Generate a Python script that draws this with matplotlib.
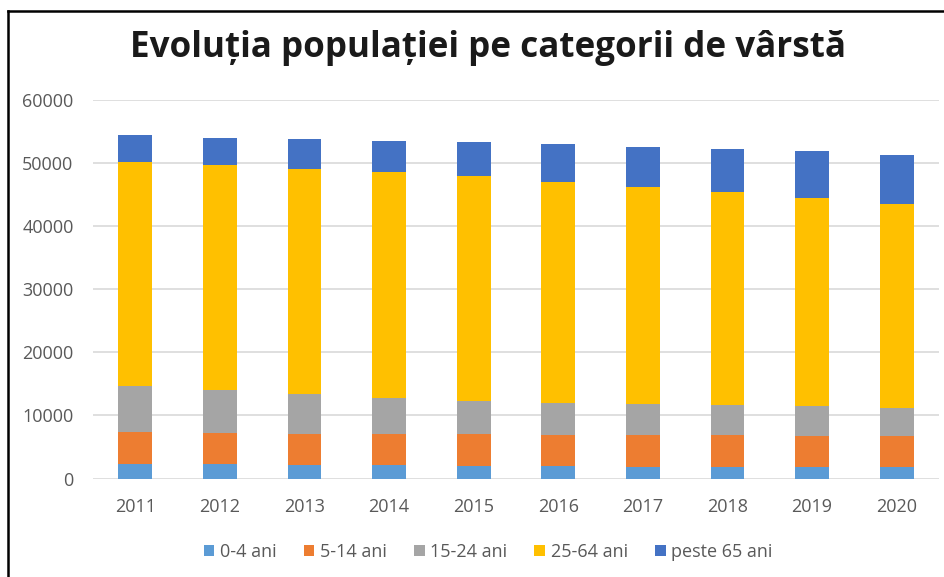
import numpy as np
import matplotlib
matplotlib.use('Agg')
import matplotlib.pyplot as plt
from matplotlib.lines import Line2D

# Data
years = ['2011', '2012', '2013', '2014', '2015', '2016', '2017', '2018', '2019', '2020']
age_0_4 = [2350, 2300, 2200, 2150, 2050, 2050, 1900, 1900, 1850, 1800]
age_5_14 = [4950, 4950, 4900, 4850, 4950, 4800, 4950, 4950, 4950, 4950]
age_15_24 = [7400, 6750, 6300, 5750, 5350, 5100, 4900, 4750, 4700, 4450]
age_25_64 = [35400, 35650, 35700, 35800, 35550, 35100, 34500, 33800, 32950, 32300]
age_65 = [4300, 4400, 4650, 4950, 5450, 6000, 6300, 6800, 7400, 7800]
series_names = ['0-4 ani', '5-14 ani', '15-24 ani', '25-64 ani', 'peste 65 ani']
colors = ['#5B9BD5', '#ED7D31', '#A5A5A5', '#FFC000', '#4472C4']

plt.rcParams['font.family'] = ['Open Sans', 'DejaVu Sans']

W, H = 944, 577
fig = plt.figure(figsize=(W / 100, H / 100), dpi=100)
ax = fig.add_axes([93 / W, 1 - 478.5 / H, (939 - 93) / W, (478.5 - 100) / H])

x = np.arange(len(years))
bottom = np.zeros(len(years))
for vals, name, col in zip([age_0_4, age_5_14, age_15_24, age_25_64, age_65], series_names, colors):
    ax.bar(x, vals, width=0.4, bottom=bottom, color=col, label=name, zorder=3)
    bottom += np.array(vals)

ax.set_xlim(-0.5, len(years) - 0.5)
ax.set_ylim(0, 60000)
ax.set_yticks(np.arange(0, 60001, 10000))
ax.set_xticks(x)
ax.set_xticklabels(years)
ax.grid(axis='y', color='#D9D9D9', linewidth=1.2, zorder=0)
for s in ax.spines.values():
    s.set_visible(False)
ax.tick_params(length=0, labelsize=13, colors='#595959', pad=14)

# Title
title = fig.text(487.5 / W, 1 - 48 / H, 'Evoluția populației pe categorii de vârstă',
                 ha='center', va='center', fontsize=21, fontweight='bold', color='#1a1a1a')
fig.canvas.draw()
tw = title.get_window_extent().width
title.set_fontsize(21 * 715 / tw)

# Legend
ax.legend(loc='center', bbox_to_anchor=(488 / W, 1 - 552 / H), bbox_transform=fig.transFigure,
          ncol=5, frameon=False, fontsize=13, handlelength=0.6, handleheight=0.6,
          handletextpad=0.3, columnspacing=1.5, labelcolor='#595959')

# Frame lines at top and left (cropped screenshot border)
fig.add_artist(Line2D([8 / W, 1], [1 - 10.5 / H, 1 - 10.5 / H], color='black', linewidth=1.8,
                      transform=fig.transFigure))
fig.add_artist(Line2D([8 / W, 8 / W], [0, 1 - 10.5 / H], color='black', linewidth=1.8,
                      transform=fig.transFigure))

fig.savefig('out.png', dpi=100)
